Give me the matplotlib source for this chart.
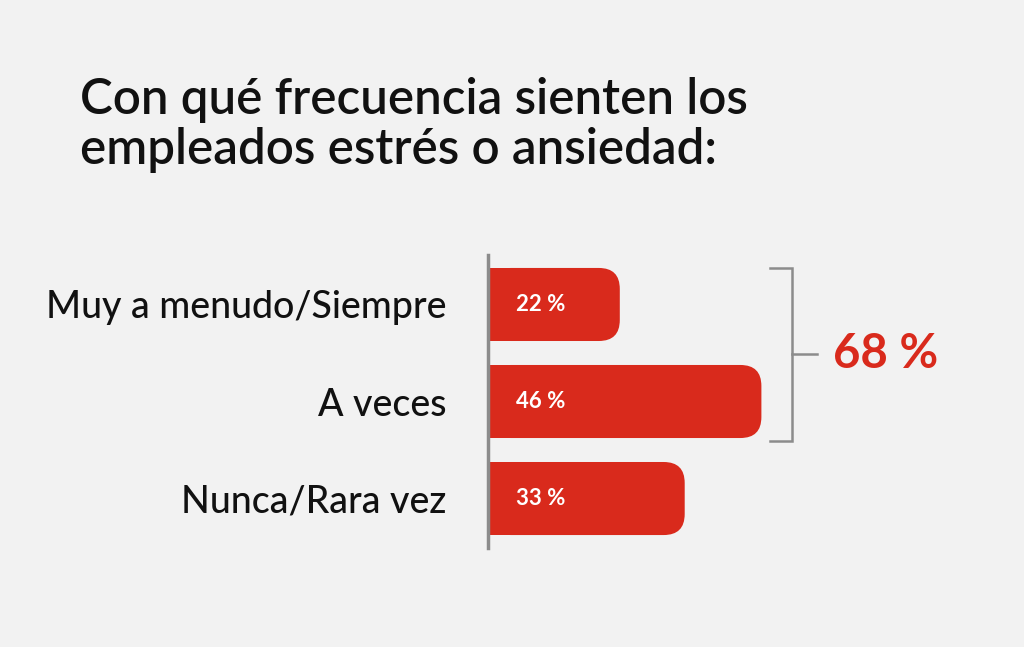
import matplotlib
matplotlib.use("Agg")
import matplotlib.pyplot as plt
from matplotlib.patches import FancyBboxPatch

categories = ["Muy a menudo/Siempre", "A veces", "Nunca/Rara vez"]
values = [22, 46, 33]
value_labels = ["22 %", "46 %", "33 %"]
total_label = "68 %"
title = "Con qué frecuencia sienten los\nempleados estrés o ansiedad:"

red = "#d92a1c"
grey = "#8c8c8c"
bg = "#f2f2f2"

plt.rcParams["font.family"] = ["Lato", "DejaVu Sans"]

fig = plt.figure(figsize=(10.24, 6.47), dpi=100, facecolor=bg)
W, H = 1024, 647
# axes: x from pixel 490, y from pixel 255 to 548
ax = fig.add_axes([490 / W, 1 - 548 / H, (W - 490) / W, 293 / H])
ax.set_facecolor("none")
xmax = (W - 490) / 5.9
ax.set_xlim(0, xmax)
ax.set_ylim(2.51, -0.51)

for s in ["top", "right", "bottom"]:
    ax.spines[s].set_visible(False)
ax.spines["left"].set_position(("data", -0.3))
ax.spines["left"].set_color(grey)
ax.spines["left"].set_linewidth(2.5)

bar_h = 0.753
ypos = list(range(len(categories)))
# px per unit
px_x = 5.9
px_y = 293 / 3.02
radius_px = 21
rx = radius_px / px_x
aspect = (1 / px_y) / (1 / px_x)

for y, v, lab in zip(ypos, values, value_labels):
    # rounded body
    box = FancyBboxPatch((0, y - bar_h / 2), v, bar_h,
                         boxstyle=f"round,pad=0,rounding_size={rx}",
                         mutation_aspect=aspect, facecolor=red,
                         edgecolor="none", zorder=2)
    ax.add_patch(box)
    # square left half
    ax.barh(y, v / 2, height=bar_h, color=red, zorder=2)
    ax.text(4.4, y, lab, color="white", fontsize=16, fontweight="bold",
            va="center", ha="left", zorder=3)

ax.set_yticks(ypos)
ax.set_yticklabels(categories, fontsize=27, color="#111111",
                   fontweight="medium")
ax.tick_params(axis="y", length=0, pad=30)
ax.set_xticks([])

# bracket around first two bars
bx = (792 - 490) / px_x
bx0 = (770 - 490) / px_x
bx1 = (817 - 490) / px_x
ytop = -bar_h / 2
ybot = 1 + bar_h / 2 + 0.03
ymid = (354 - 255) / px_y - 0.51
ax.plot([bx0, bx, bx, bx0], [ytop, ytop, ybot, ybot], color=grey, lw=1.8,
        clip_on=False, solid_joinstyle="miter")
ax.plot([bx, bx1], [ymid, ymid], color=grey, lw=1.8, clip_on=False)
ax.text((833 - 490) / px_x, ymid, total_label, color=red, fontsize=34,
        fontweight="bold", va="center", ha="left")

fig.text(80 / W, 1 - 77 / H, title, fontsize=35.5, fontweight="semibold",
         color="#111111", va="top", ha="left", linespacing=1.1)

fig.savefig("out.png", dpi=100, facecolor=bg)
